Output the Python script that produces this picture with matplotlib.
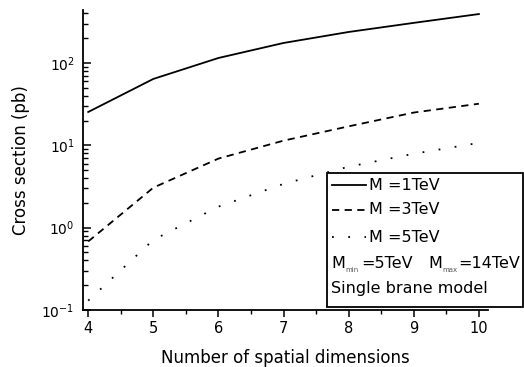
import numpy as np
import matplotlib.pyplot as plt
from matplotlib.lines import Line2D
from matplotlib.patches import Rectangle
from matplotlib.ticker import LogLocator, NullFormatter, MultipleLocator

plt.rcParams["font.family"] = ["DejaVu Sans"]
plt.rcParams["mathtext.fontset"] = "dejavusans"

# cross sections (pb) vs number of spatial dimensions
dims = [4, 5, 6, 7, 8, 9, 10]
sigma_1tev = [25.4, 64, 115, 175, 238, 307, 393]
sigma_3tev = [0.68, 3.06, 6.9, 11.4, 17, 25, 32]
sigma_5tev = [0.13, 0.71, 1.8, 3.4, 5.5, 7.9, 10.7]

labels = ["M =1TeV", "M =3TeV", "M =5TeV"]
styles = ["-", (0, (4, 3)), (0, (1, 8))]

W, H = 524, 367
fig = plt.figure(figsize=(W / 100, H / 100), dpi=100)
ax = fig.add_axes([83 / W, 1 - 310 / H, (488 - 83) / W, (310 - 10) / H])

for ys, ls in zip([sigma_1tev, sigma_3tev, sigma_5tev], styles):
    ax.plot(dims, ys, color="black", linestyle=ls, linewidth=1.3)

ax.set_yscale("log")
ax.set_xlim(3.92, 10.14)
ax.set_ylim(0.1, 440)

ax.spines["top"].set_visible(False)
ax.spines["right"].set_visible(False)
ax.spines["left"].set_linewidth(1.3)
ax.spines["bottom"].set_linewidth(1.3)

ax.xaxis.set_major_locator(MultipleLocator(1))
ax.xaxis.set_minor_locator(MultipleLocator(0.5))
ax.yaxis.set_major_locator(LogLocator(base=10, numticks=10))
ax.yaxis.set_minor_locator(LogLocator(base=10, subs=np.arange(2, 10), numticks=10))
ax.yaxis.set_minor_formatter(NullFormatter())

ax.tick_params(axis="x", which="major", direction="out", length=5, width=1.1,
               labelsize=10.5, pad=3)
ax.tick_params(axis="x", which="minor", direction="out", length=3, width=1)
ax.tick_params(axis="y", which="major", direction="in", length=6, width=1.1,
               labelsize=10, pad=6)
ax.tick_params(axis="y", which="minor", direction="in", length=3.5, width=1)

ax.set_xlabel("Number of spatial dimensions", fontsize=12, labelpad=9)
ax.set_ylabel("Cross section (pb)", fontsize=12, labelpad=8)


def fx(px):
    return px / W


def fy(py):
    return 1 - py / H


# legend box, drawn by hand so the text-only rows start at the left edge
fig.add_artist(Rectangle((fx(327), fy(307)), fx(523) - fx(327), fy(173) - fy(307),
                         transform=fig.transFigure, facecolor="white",
                         edgecolor="black", linewidth=1.3, zorder=5))

rows = [185, 210, 237, 263, 289]
for row, lab, ls in zip(rows, labels, styles):
    fig.add_artist(Line2D([fx(332), fx(366)], [fy(row), fy(row)],
                          transform=fig.transFigure, color="black",
                          linestyle=ls, linewidth=1.3, zorder=6))
    fig.text(fx(369), fy(row), lab, fontsize=11.5, va="center", zorder=6)

# mass range row: big "M", tiny subscript, then the value
for x_m, sub, x_val, val in [(331, "min", 361, "=5TeV"), (428, "max", 458, "=14TeV")]:
    fig.text(fx(x_m), fy(rows[3]), "M", fontsize=11.5, va="center", zorder=6)
    fig.text(fx(x_m + 14), fy(rows[3] + 7), sub, fontsize=5, va="center",
             color="#555555", zorder=6)
    fig.text(fx(x_val), fy(rows[3]), val, fontsize=11.5, va="center", zorder=6)

fig.text(fx(331), fy(rows[4]), "Single brane model", fontsize=11.5,
         va="center", zorder=6)

plt.savefig("out.png", dpi=100)
